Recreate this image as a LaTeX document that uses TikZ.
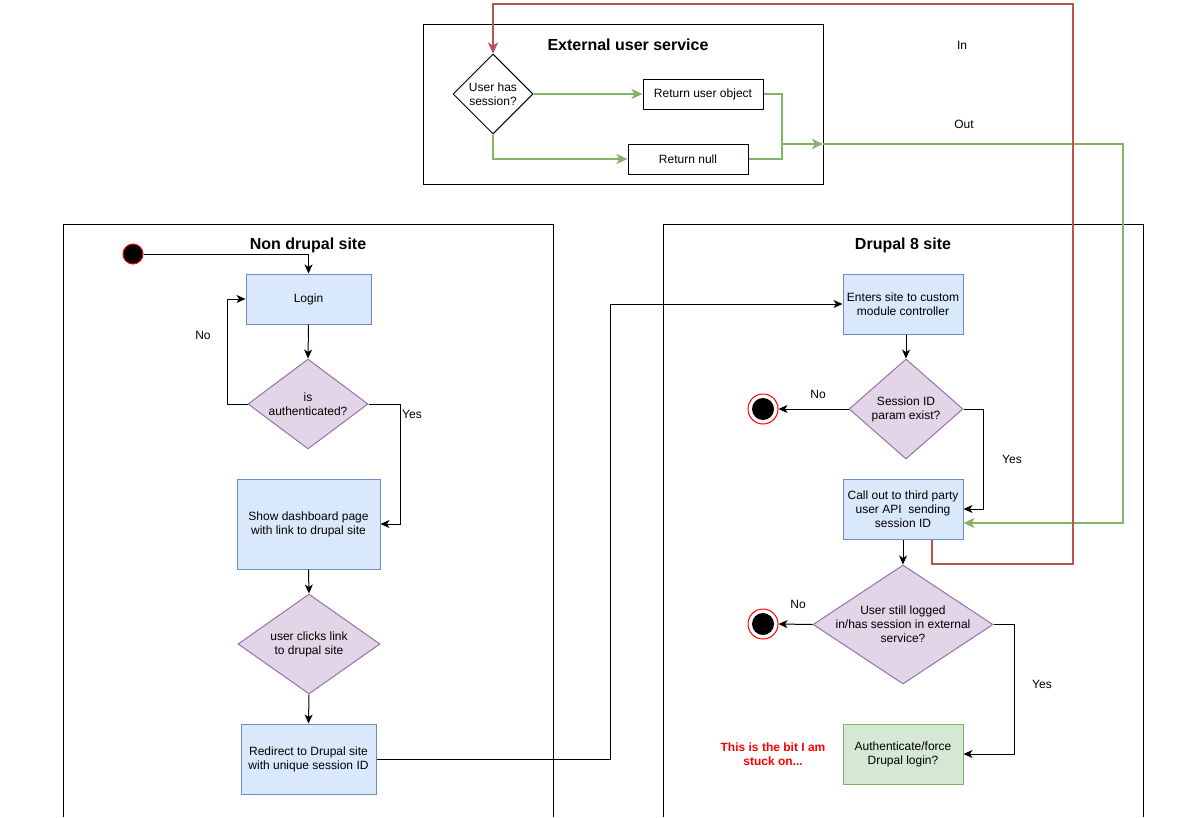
\documentclass[tikz,border=0pt]{standalone}
\usepackage{fontspec}
\setmainfont{Liberation Sans}
\usetikzlibrary{shapes.geometric,arrows.meta}
\definecolor{bfill}{HTML}{DAE8FC}\definecolor{bdraw}{HTML}{6C8EBF}
\definecolor{pfill}{HTML}{E1D5E7}\definecolor{pdraw}{HTML}{9673A6}
\definecolor{gfill}{HTML}{D5E8D4}\definecolor{gdraw}{HTML}{82B366}
\definecolor{rline}{HTML}{B85450}
\begin{document}
\begin{tikzpicture}[x=1pt,y=-1pt,
  font=\fontsize{12}{14}\selectfont,
  every node/.style={inner sep=0pt},
  bluebox/.style={draw=bdraw,fill=bfill,rectangle,align=center,line width=1pt},
  greenbox/.style={draw=gdraw,fill=gfill,rectangle,align=center,line width=1pt},
  whitebox/.style={draw=black,fill=white,rectangle,align=center,line width=1pt},
  dia/.style={draw=pdraw,fill=pfill,diamond,line width=1pt},
  wdia/.style={draw=black,fill=white,diamond,line width=1pt},
  container/.style={draw=black,line width=1pt},
  title/.style={font=\fontsize{16}{19}\selectfont\bfseries},
  arr/.style={draw=black,line width=1pt,-{Stealth[length=9pt,width=8pt,inset=2.5pt]}},
  garr/.style={draw=gdraw,line width=2pt,-{Stealth[length=11pt,width=10pt,inset=3pt]}},
  gline/.style={draw=gdraw,line width=2pt},
  rarr/.style={draw=rline,line width=2pt,-{Stealth[length=11pt,width=10pt,inset=3pt]}},
  lbl/.style={font=\fontsize{12}{14}\selectfont},
  startnode/.style={circle,draw=red,fill=black,minimum size=20pt,line width=1pt},
  endnode/.style={circle,draw=red,fill=white,minimum size=30pt,line width=1pt,
    path picture={\fill[black] (path picture bounding box.center) circle (11pt);}},
]
\useasboundingbox (0,0) rectangle (1202,817);

% containers
\draw[container] (423,24) rectangle (823,184);
\node[title] (exttitle) at (628,45) {External user service};
\draw[container] (63,817) -- (63,224) -- (553,224) -- (553,817);
\node[title] (ndtitle) at (308,245) {Non drupal site};
\draw[container] (663,817) -- (663,224) -- (1143,224) -- (1143,817);
\node[title] (d8title) at (903,245) {Drupal 8 site};
\coordinate (extin) at (823,144);

% external service
\node[wdia,minimum width=80pt,minimum height=80pt,
  label={[align=center]center:User has\\session?}] (hasses) at (493,94) {};
\node[whitebox,minimum width=120pt,minimum height=30pt] (retuser) at (703,94) {Return user object};
\node[whitebox,minimum width=120pt,minimum height=30pt] (retnull) at (688,159) {Return null};

% non drupal
\node[startnode] (start) at (133,254) {};
\node[bluebox,minimum width=125pt,minimum height=50pt] (login) at (308.5,299) {Login};
\node[dia,minimum width=120pt,minimum height=90pt,
  label={[align=center]center:is\\authenticated?}] (isauth) at (308,404) {};
\node[bluebox,minimum width=143pt,minimum height=90pt] (dash) at (308.5,524) {Show dashboard page\\with link to drupal site};
\node[dia,minimum width=142pt,minimum height=100pt,
  label={[align=center]center:user clicks link\\to drupal site}] (click) at (309,644) {};
\node[bluebox,minimum width=135pt,minimum height=70pt] (redir) at (308.5,759) {Redirect to Drupal site\\with unique session ID};

% drupal 8
\node[bluebox,minimum width=120pt,minimum height=60pt] (enters) at (903,304) {Enters site to custom\\module controller};
\node[dia,minimum width=114pt,minimum height=100pt,
  label={[align=center]center:Session ID\\param exist?}] (sess) at (906,409) {};
\node[endnode] (end1) at (763,409) {};
\node[bluebox,minimum width=120pt,minimum height=60pt] (callout) at (903,509) {Call out to third party\\user API~ sending\\session ID};
\node[dia,minimum width=180pt,minimum height=119pt,
  label={[align=center]center:User still logged\\in/has session in external\\service?}] (still) at (903,624.5) {};
\node[endnode] (end2) at (763,624) {};
\node[greenbox,minimum width=120pt,minimum height=60pt] (auth) at (903,754) {Authenticate/force\\Drupal login?};
\node[align=center,text=red,font=\fontsize{12}{14}\selectfont\bfseries] (stuck) at (773,754) {This is the bit I am\\stuck on...};

% labels
\node[lbl] (lno1) at (203,335) {No};
\node[lbl] (lyes1) at (412,414) {Yes};
\node[lbl] (lno2) at (818,394) {No};
\node[lbl] (lyes2) at (1012,459) {Yes};
\node[lbl] (lno3) at (798,604) {No};
\node[lbl] (lyes3) at (1042,684) {Yes};
\node[lbl] (lin) at (962,45) {In};
\node[lbl] (lout) at (964,124) {Out};

% black connectors
\draw[arr] (start.east) -| (login.north);
\draw[arr] (login.south) -- (isauth.north);
\draw[arr] (isauth.west) -- ++(-20,0) |- (login.west);
\draw[arr] (isauth.east) -- ++(32,0) |- (dash.east);
\draw[arr] (dash.south) -- (click.north);
\draw[arr] (click.south) -- (redir.north);
\draw[arr] (redir.east) -- (610,759) |- (enters.west);
\draw[arr] (enters.south -| sess.north) -- (sess.north);
\draw[arr] (sess.west) -- (end1.east);
\draw[arr] (sess.east) -- ++(20,0) |- (callout.east);
\draw[arr] (callout.south) -- (still.north);
\draw[arr] (still.west) -- (end2.east);
\draw[arr] (still.east) -- ++(21,0) |- (auth.east);

% green connectors
\draw[garr] (hasses.east) -- (retuser.west);
\draw[garr] (hasses.south) |- (retnull.west);
\draw[gline] (retnull.east) -| (782,144);
\draw[garr] (retuser.east) -| (782,144) -- (extin);
\draw[garr] (extin) -- (1123,144) |- ([yshift=-14pt]callout.east);

% red connector
\draw[rarr] ([xshift=29pt]callout.south) -- ++(0,24) -| (1073,4) -| (hasses.north);
\end{tikzpicture}
\end{document}
